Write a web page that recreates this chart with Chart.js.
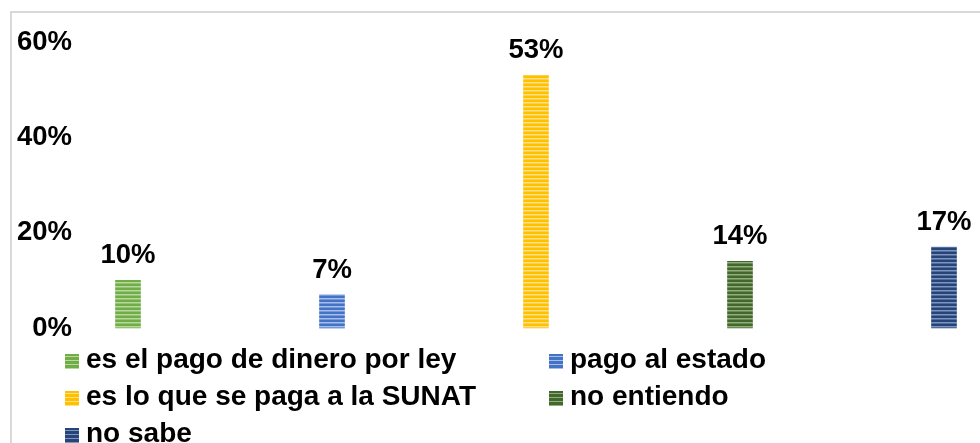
<!DOCTYPE html>
<html>
<head>
<meta charset="utf-8">
<script src="https://cdn.jsdelivr.net/npm/chart.js@4.4.1/dist/chart.umd.min.js"></script>
<style>
  html, body { margin: 0; padding: 0; background: #fff; }
  body { width: 980px; height: 443px; overflow: hidden; position: relative; font-family: "Liberation Sans", Arial, sans-serif; }
  #frame { position: absolute; left: 10px; top: 11px; width: 1000px; height: 500px; border: 2px solid #d9d9d9; box-sizing: border-box; }
  #chart { position: absolute; left: 0; top: 0; }
  #legend { position: absolute; left: 65px; top: 340px; width: 900px; }
  .item { position: absolute; height: 37px; line-height: 37px; font-weight: bold; font-size: 28px; color: #000; white-space: nowrap; }
  .box { display: inline-block; width: 14px; height: 15px; margin-right: 7px; vertical-align: -1px; }
</style>
</head>
<body>
<div id="frame"></div>
<canvas id="chart" width="980" height="443"></canvas>
<div id="legend"></div>
<script>
// ======
// data
// ======
var categories = ['es el pago de dinero por ley', 'pago al estado', 'es lo que se paga a la SUNAT', 'no entiendo', 'no sabe'];
var values = [0.10, 0.07, 0.53, 0.14, 0.17];
var yTicks = [0, 0.2, 0.4, 0.6];

var colors = ['#70ad47', '#4472c4', '#ffc000', '#43682b', '#264478'];
var lights = ['#b7d9a0', '#a5bde8', '#ffe08a', '#93ad80', '#7e95bd'];

var FONT = '"Liberation Sans", Arial, sans-serif';

// striped fill like the excel pattern
function stripes(c, l) {
    var p = document.createElement('canvas');
    p.width = 4; p.height = 4;
    var g = p.getContext('2d');
    g.fillStyle = c;
    g.fillRect(0, 0, 4, 4);
    g.fillStyle = l;
    g.fillRect(0, 2, 4, 1);
    g.globalAlpha = 0.5;
    g.fillRect(0, 3, 4, 1);
    return g.createPattern(p, 'repeat');
}

var ctx = document.getElementById('chart').getContext('2d');

var datasets = categories.map(function (name, i) {
    return {
        label: name,
        data: categories.map(function (_, j) { return j === i ? values[i] : null; }),
        backgroundColor: stripes(colors[i], lights[i]),
        borderWidth: 0,
        barThickness: 25,
        clip: false
    };
});

// value labels above the bars
var barLabels = {
    id: 'barLabels',
    afterDatasetsDraw: function (chart) {
        var c = chart.ctx;
        c.save();
        c.font = 'bold 27.5px ' + FONT;
        c.fillStyle = '#000';
        c.textAlign = 'center';
        c.textBaseline = 'alphabetic';
        chart.data.datasets.forEach(function (ds, i) {
            var meta = chart.getDatasetMeta(i);
            meta.data.forEach(function (el, j) {
                var v = ds.data[j];
                if (v === null) return;
                c.fillText(Math.round(v * 100) + '%', el.x, el.y - 17);
            });
        });
        c.restore();
    }
};

var chart = new Chart(ctx, {
    type: 'bar',
    data: { labels: categories, datasets: datasets },
    options: {
        responsive: false,
        animation: false,
        devicePixelRatio: 1,
        skipNull: true,
        layout: { padding: { left: 0, top: 42, right: 36, bottom: 115 } },
        plugins: { legend: { display: false }, tooltip: { enabled: false } },
        scales: {
            x: { type: 'category', offset: false, display: false },
            y: {
                min: 0,
                max: 0.6,
                afterBuildTicks: function (s) { s.ticks = yTicks.map(function (v) { return { value: v }; }); },
                afterFit: function (s) { s.width = 128; s.paddingTop = 0; s.paddingBottom = 0; },
                grid: { display: false },
                border: { display: false },
                ticks: {
                    padding: 48,
                    color: '#000',
                    font: { family: FONT, size: 27.5, weight: 'bold' },
                    callback: function (v) { return Math.round(v * 100) + '%'; }
                }
            }
        }
    },
    plugins: [barLabels]
});

// legend in two columns
var legend = document.getElementById('legend');
chart.data.datasets.forEach(function (ds, i) {
    var d = document.createElement('div');
    d.className = 'item';
    d.style.left = (i % 2 ? 484 : 0) + 'px';
    d.style.top = (Math.floor(i / 2) * 37) + 'px';
    var b = document.createElement('span');
    b.className = 'box';
    b.style.background = 'repeating-linear-gradient(to bottom,' + colors[i] + ' 0 2px,' + lights[i] + ' 2px 3px,' + colors[i] + ' 3px 4px)';
    d.appendChild(b);
    d.appendChild(document.createTextNode(ds.label));
    legend.appendChild(d);
});
</script>
</body>
</html>
